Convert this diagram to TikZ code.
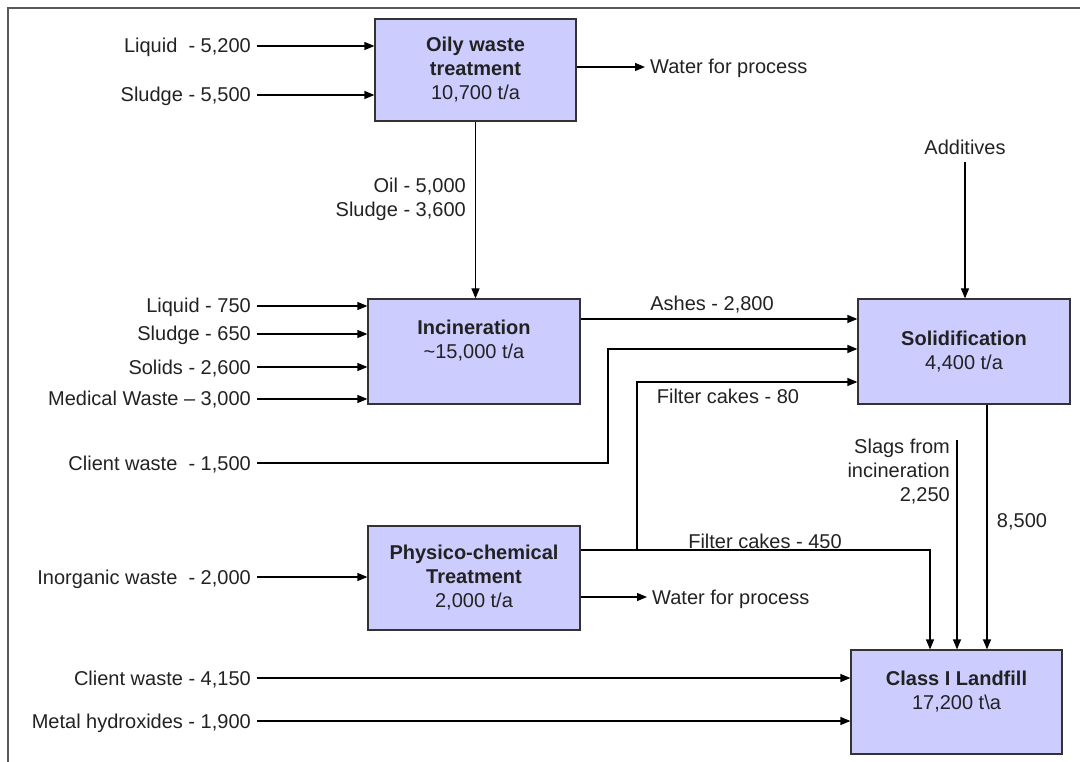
\documentclass[tikz,border=0pt]{standalone}
\usepackage{fontspec}
\setmainfont{Liberation Sans}
\usetikzlibrary{arrows.meta,calc}
\definecolor{boxfill}{HTML}{CCCCFF}
\definecolor{boxline}{HTML}{333333}
\definecolor{txt}{HTML}{222222}
\begin{document}
\begin{tikzpicture}[x=1pt,y=-1pt,
  font=\fontsize{20}{24}\selectfont, text=txt,
  box/.style={draw=boxline, line width=1.2pt, fill=boxfill, inner sep=0pt, align=center},
  lbl/.style={inner sep=0pt, text height=14pt, text depth=0pt},
  arr/.style={line width=1.2pt, -{Triangle[length=10pt,width=8pt]}},
  ln/.style={line width=1.2pt}]
\useasboundingbox (0,0) rectangle (1080,762);
\draw[line width=1.3pt, gray!70!black] (8,762) -- (8,8) -- (1080,8);

% boxes
\node[box, minimum width=201pt, minimum height=102pt] (oily) at (475.5,70) {\textbf{Oily waste}\\\textbf{treatment}\\10,700 t/a};
\node[box, minimum width=212pt, minimum height=105pt] (inc) at (474,351.5) {\textbf{Incineration}\\\textasciitilde15,000 t/a\\\mbox{}};
\node[box, minimum width=212pt, minimum height=105pt] (sol) at (964,351.5) {\textbf{Solidification}\\4,400 t/a};
\node[box, minimum width=212pt, minimum height=104pt] (phys) at (474,578) {\textbf{Physico-chemical}\\\textbf{Treatment}\\2,000 t/a};
\node[box, minimum width=211pt, minimum height=104pt] (land) at (956.5,702) {\textbf{Class I Landfill}\\17,200 t\textbackslash a\\\mbox{}};

% inputs
\node[lbl, anchor=east] (l1) at (251,46) {Liquid\ \ - 5,200};
\node[lbl, anchor=east] (l2) at (251,95) {Sludge - 5,500};
\node[lbl, anchor=east] (i1) at (251,306) {Liquid - 750};
\node[lbl, anchor=east] (i2) at (251,334) {Sludge - 650};
\node[lbl, anchor=east] (i3) at (251,367) {Solids - 2,600};
\node[lbl, anchor=east] (i4) at (251,399) {Medical Waste -- 3,000};
\node[lbl, anchor=east] (cw1) at (251,463) {Client waste\ \ - 1,500};
\node[lbl, anchor=east] (p1) at (251,577) {Inorganic waste\ \ - 2,000};
\node[lbl, anchor=east] (cw2) at (251,678) {Client waste - 4,150};
\node[lbl, anchor=east] (mh) at (251,721) {Metal hydroxides - 1,900};

\draw[arr] ([xshift=6pt]l1.east) -- (l1.east -| oily.west);
\draw[arr] ([xshift=6pt]l2.east) -- (l2.east -| oily.west);
\draw[arr] ([xshift=6pt]i1.east) -- (i1.east -| inc.west);
\draw[arr] ([xshift=6pt]i2.east) -- (i2.east -| inc.west);
\draw[arr] ([xshift=6pt]i3.east) -- (i3.east -| inc.west);
\draw[arr] ([xshift=6pt]i4.east) -- (i4.east -| inc.west);
\draw[arr] ([xshift=6pt]p1.east) -- (p1.east -| phys.west);
\draw[arr] ([xshift=6pt]cw2.east) -- (cw2.east -| land.west);
\draw[arr] ([xshift=6pt]mh.east) -- (mh.east -| land.west);

% water outputs
\node[lbl, anchor=west] (w1) at (650,67) {Water for process};
\draw[arr] (oily.east |- w1.west) -- ([xshift=-5pt]w1.west);
\node[lbl, anchor=west] (w2) at (652,597) {Water for process};
\draw[arr] (phys.east |- w2.west) -- ([xshift=-5pt]w2.west);

% oily -> incineration
\draw[arr] (oily.south) -- (oily.south |- inc.north);
\node[align=right, anchor=east, inner sep=0pt] (oil) at (466,199) {Oil - 5,000\\Sludge - 3,600};

% ashes
\draw[arr] ([yshift=32.5pt]inc.east) coordinate (a0) -- (a0 -| sol.west);
\node[lbl] (ash) at (712,304) {Ashes - 2,800};

% client waste 1,500
\coordinate (k1) at (608,463);
\coordinate (k2) at (608,349);
\draw[arr] ([xshift=6pt]cw1.east) -- (k1) -- (k2) -- (k2 -| sol.west);

% filter cakes
\coordinate (f1) at (930,550);
\draw[arr] ([yshift=28pt]phys.east) -- (f1) -- (f1 |- land.north);
\coordinate (j) at (637,550);
\coordinate (j2) at (637,382);
\draw[arr] (j) -- (j2) -- (j2 -| sol.west);
\node[lbl] (fc80) at (728,396) {Filter cakes - 80};
\node[lbl] (fc450) at (765,541) {Filter cakes - 450};

% slags
\coordinate (s0) at (957,440);
\draw[arr] (s0) -- (s0 |- land.north);
\node[align=right, anchor=east, inner sep=0pt] (slag) at (950,472) {Slags from\\incineration\\2,250};

% solidification -> landfill
\draw[arr] ([xshift=23pt]sol.south) coordinate (e0) -- (e0 |- land.north);
\node[lbl] (n85) at (1022,520) {8,500};

% additives
\node[lbl] (add) at (965,148) {Additives};
\draw[arr] ([yshift=-7pt]add.south) -- (add.south |- sol.north);
\end{tikzpicture}
\end{document}
